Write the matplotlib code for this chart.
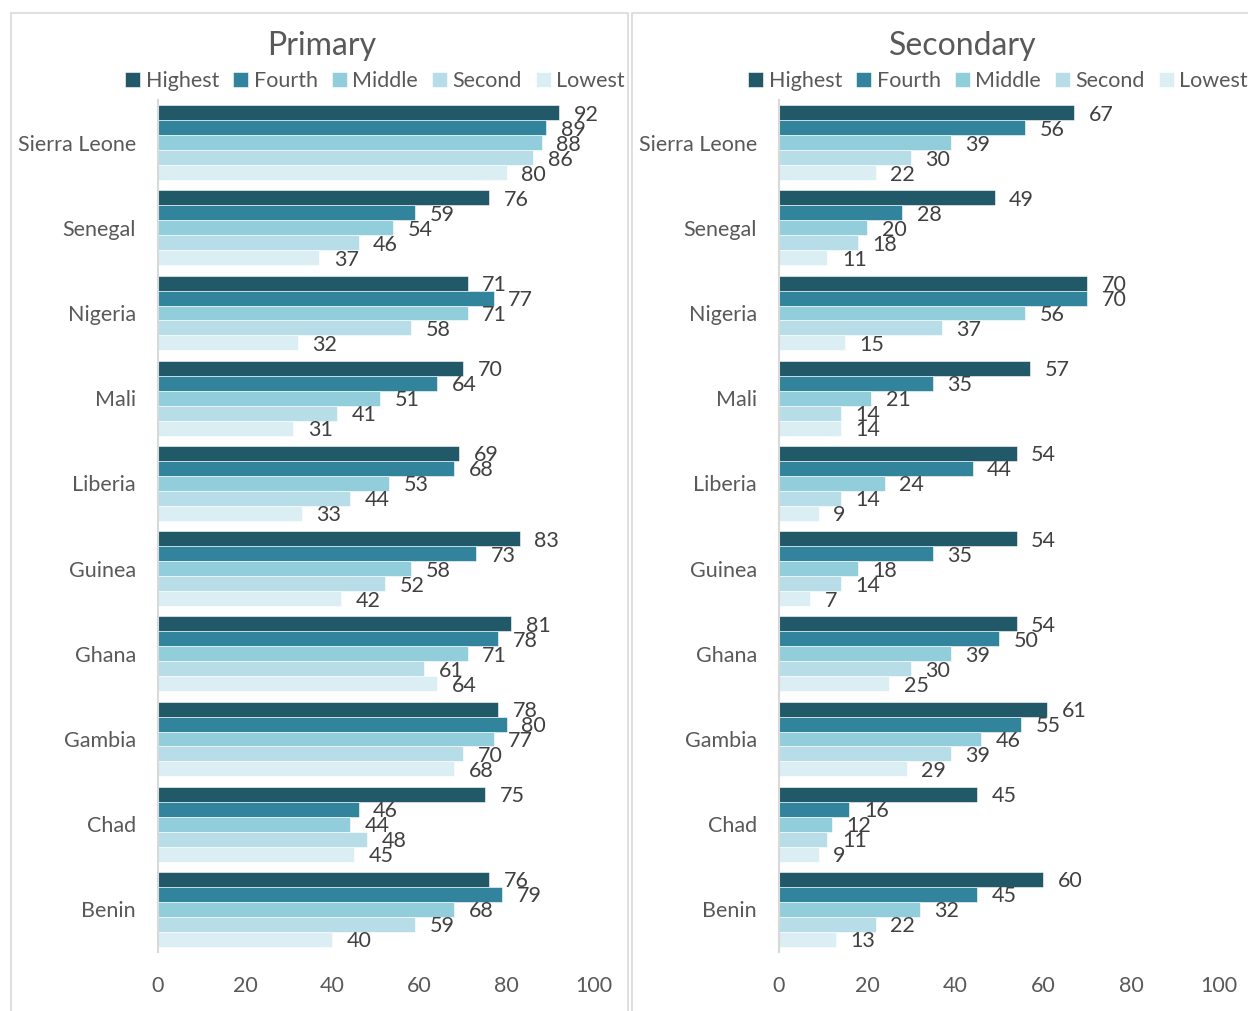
import numpy as np
import matplotlib
matplotlib.use('Agg')
import matplotlib.pyplot as plt
from matplotlib.patches import Rectangle

plt.rcParams['font.family'] = ['Lato', 'DejaVu Sans']

countries = ['Sierra Leone', 'Senegal', 'Nigeria', 'Mali', 'Liberia',
             'Guinea', 'Ghana', 'Gambia', 'Chad', 'Benin']
series = ['Highest', 'Fourth', 'Middle', 'Second', 'Lowest']
colors = ['#215968', '#31849B', '#92CDDC', '#B7DEE8', '#DAEEF3']

# rows = countries, cols = Highest, Fourth, Middle, Second, Lowest
primary = [
    [92, 89, 88, 86, 80],
    [76, 59, 54, 46, 37],
    [71, 77, 71, 58, 32],
    [70, 64, 51, 41, 31],
    [69, 68, 53, 44, 33],
    [83, 73, 58, 52, 42],
    [81, 78, 71, 61, 64],
    [78, 80, 77, 70, 68],
    [75, 46, 44, 48, 45],
    [76, 79, 68, 59, 40],
]
secondary = [
    [67, 56, 39, 30, 22],
    [49, 28, 20, 18, 11],
    [70, 70, 56, 37, 15],
    [57, 35, 21, 14, 14],
    [54, 44, 24, 14, 9],
    [54, 35, 18, 14, 7],
    [54, 50, 39, 30, 25],
    [61, 55, 46, 39, 29],
    [45, 16, 12, 11, 9],
    [60, 45, 32, 22, 13],
]
xticks = [0, 20, 40, 60, 80, 100]

W, H = 1248, 1011
fig = plt.figure(figsize=(W / 100, H / 100), dpi=100)

# panel frames
fig.patches.append(Rectangle((11 / W, -0.01), 617 / W, (H - 13) / H + 0.01,
                             transform=fig.transFigure, fill=False,
                             edgecolor='#D9D9D9', linewidth=1.2))
fig.patches.append(Rectangle((632 / W, -0.01), 0.5, (H - 13) / H + 0.01,
                             transform=fig.transFigure, fill=False,
                             edgecolor='#D9D9D9', linewidth=1.2))

bar_h = 0.176
txt = '#595959'
fs = 15.5


def panel(left, width, data, title, title_x, leg_x):
    ax = fig.add_axes([left / W, 59 / H, width / W, 852 / H])
    data = np.array(data)
    y = np.arange(len(countries))
    for j, s in enumerate(series):
        yy = y - 2 * bar_h + j * bar_h
        ax.barh(yy, data[:, j], height=bar_h, color=colors[j],
                edgecolor='white', linewidth=0.4, label=s)
        for yi, v in zip(yy, data[:, j]):
            ax.annotate(str(v), (v, yi), xytext=(10.5, -1.5),
                        textcoords='offset points', ha='left', va='center',
                        fontsize=fs, color='#404040')
    ax.set_ylim(len(countries) - 0.5, -0.5)
    ax.set_xlim(0, 100)
    ax.set_yticks(y)
    ax.set_yticklabels(countries, fontsize=fs, color=txt)
    ax.set_xticks(xticks)
    ax.set_xticklabels([str(t) for t in xticks], fontsize=fs, color=txt)
    ax.tick_params(axis='y', length=0, pad=16)
    ax.tick_params(axis='x', length=0, pad=17)
    for sp in ['top', 'right', 'bottom']:
        ax.spines[sp].set_visible(False)
    ax.spines['left'].set_color('#D9D9D9')
    ax.spines['left'].set_linewidth(1.5)
    fig.text(title_x / W, 1 - 46 / H, title, ha='center', va='center',
             fontsize=23, color=txt)
    ax.legend(loc='center', bbox_to_anchor=(leg_x / W, 1 - 81 / H),
              bbox_transform=fig.transFigure, ncol=5, frameon=False,
              fontsize=fs, handlelength=0.7, handleheight=0.7,
              handletextpad=0.25, columnspacing=0.65, labelcolor=txt,
              borderpad=0)
    return ax


panel(158, 436, primary, 'Primary', 322, 375)
panel(779, 440, secondary, 'Secondary', 963, 998)

fig.savefig('out.png', dpi=100)
